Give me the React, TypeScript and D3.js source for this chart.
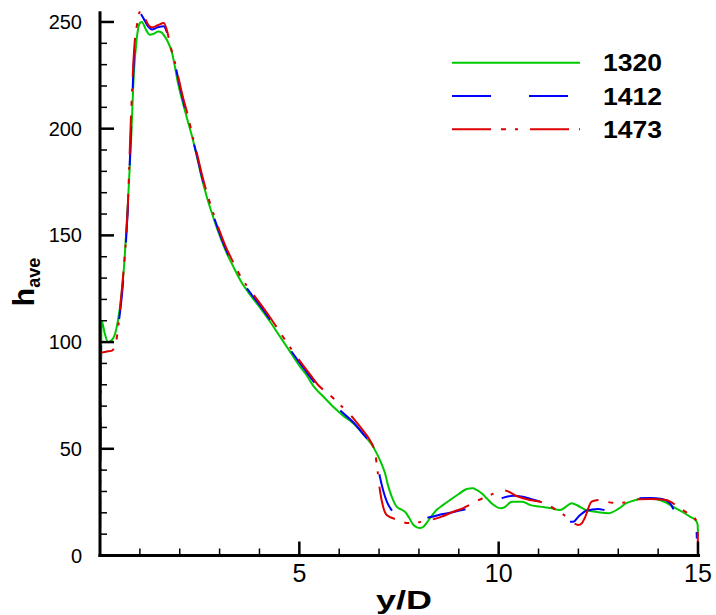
import React from "react";
import * as d3 from "d3";

// ---- data ----
const g1320X = [0, 0.015, 0.04, 0.12, 0.2, 0.3, 0.38, 0.45, 0.55, 0.62, 0.7, 0.78, 0.85, 0.92, 1.0, 1.05, 1.15, 1.25, 1.35, 1.46, 1.55, 1.63, 1.72, 1.8, 1.88, 1.96, 2.08, 2.18, 2.3, 2.43, 2.55, 2.68, 2.85, 3.01, 3.17, 3.34, 3.55, 3.8, 4.0, 4.25, 4.5, 4.75, 5.0, 5.2, 5.35, 5.6, 5.85, 6.1, 6.35, 6.55, 6.73, 6.85, 6.95, 7.05, 7.15, 7.23, 7.33, 7.44, 7.55, 7.65, 7.75, 7.85, 7.95, 8.03, 8.12, 8.19, 8.3, 8.44, 8.6, 8.78, 9.0, 9.2, 9.35, 9.45, 9.58, 9.7, 9.85, 10.0, 10.07, 10.15, 10.33, 10.6, 10.78, 11.04, 11.3, 11.54, 11.7, 11.83, 12.0, 12.2, 12.5, 12.75, 13.0, 13.2, 13.4, 13.63, 13.96, 14.2, 14.37, 14.6, 14.8, 14.95, 14.99, 15.0];
const g1320Y = [10, 60, 110, 104, 100, 101, 104, 110, 124, 140, 165, 195, 226, 242, 249.5, 250, 246.5, 244, 244.5, 245.5, 245, 243, 240, 236, 229, 221, 212, 205, 197, 187, 177, 168, 158, 149.5, 142, 135.5, 128, 121.3, 116.5, 110, 103, 96, 89, 84, 79.5, 74.5, 69.7, 65.5, 62, 58, 54, 51, 47.5, 43.5, 38.5, 32.5, 27, 22.9, 21.6, 20.5, 17.8, 14.6, 13.2, 12.9, 13.6, 15.2, 18, 21.3, 23.6, 26, 28.8, 31.2, 31.5, 30.7, 29, 26.8, 24, 22.3, 22.1, 22.6, 25.2, 25.2, 23.7, 22.9, 22.2, 21.3, 23, 24.5, 23.2, 21.3, 20.3, 19.8, 21.8, 24.5, 25.8, 26.8, 26.3, 24.8, 22.9, 20.5, 18.2, 16.3, 14.5, 9];

const b1412X = [0, 0.015, 0.03, 0.2, 0.38, 0.45, 0.55, 0.62, 0.7, 0.78, 0.86, 0.93, 1.0, 1.09, 1.21, 1.3, 1.45, 1.6, 1.68, 1.75, 1.88, 2.0, 2.09, 2.18, 2.3, 2.43, 2.55, 2.68, 2.85, 3.01, 3.17, 3.34, 3.55, 3.8, 4.0, 4.25, 4.5, 4.75, 5.0, 5.2, 5.4, 5.72, 6.0, 6.4, 6.6, 6.8, 6.94, 7.02, 7.1, 7.2, 7.35, 7.55, 7.78, 8.0, 8.3, 8.57, 8.9, 9.2, 9.53, 9.9, 10.1, 10.37, 10.6, 10.8, 11.04, 11.3, 11.54, 11.7, 11.87, 12.0, 12.2, 12.5, 12.7, 12.92, 13.2, 13.54, 13.8, 14.1, 14.3, 14.46, 14.63, 14.8, 14.9, 14.96, 14.97];
const b1412Y = [8, 60, 99, 100, 100.5, 107, 122, 138, 163, 200, 235, 248, 254, 251.7, 247.8, 246.5, 247.5, 248, 245, 240, 230.5, 220, 213, 205.5, 197, 187.5, 178, 169, 159, 150.5, 143, 136.5, 129, 122.3, 117.5, 111, 104, 97, 90.5, 85.5, 80.5, 74.4, 68.5, 61.5, 57, 52, 45.5, 37, 30.7, 25, 20.5, 18, 17, 17.3, 18, 19.3, 20.5, 21.8, 23, 25.5, 27, 28, 27.5, 26.5, 25.2, 22.5, 19.9, 15.8, 15.8, 18.2, 21, 21.8, 21.2, 21.3, 24.7, 26.8, 27, 26.5, 24.5, 19, 17, 16.6, 16.6, 13.5, 8];

const r1473X = [0, 0.015, 0.03, 0.15, 0.3, 0.4, 0.45, 0.54, 0.62, 0.7, 0.77, 0.86, 0.94, 1.02, 1.13, 1.21, 1.3, 1.45, 1.6, 1.68, 1.75, 1.88, 2.09, 2.2, 2.34, 2.43, 2.55, 2.68, 2.85, 3.01, 3.17, 3.34, 3.55, 3.8, 4.0, 4.25, 4.5, 4.75, 5.02, 5.31, 5.47, 5.72, 6.0, 6.35, 6.6, 6.77, 6.9, 6.96, 7.02, 7.1, 7.19, 7.48, 7.72, 8.0, 8.28, 8.57, 8.86, 9.1, 9.45, 9.78, 10.16, 10.45, 10.78, 11.04, 11.45, 11.75, 12.0, 12.08, 12.16, 12.33, 12.5, 12.87, 13.2, 13.5, 13.8, 14.2, 14.55, 14.8, 14.95, 14.99, 15.0];
const r1473Y = [10, 60, 95, 95.5, 96, 100, 106, 123, 140, 165, 202, 238, 250, 255.5, 251.7, 248.6, 247.5, 248.5, 249.5, 246, 240, 231, 214, 206.5, 195, 188.5, 179, 170, 160, 151.5, 144, 137.5, 130, 123.5, 118.5, 112, 105, 98, 91, 83.8, 79.9, 76, 71, 64.4, 58.5, 54, 48, 40, 30.7, 23, 19, 16.6, 15.2, 15.6, 16.6, 18.2, 20.5, 22.1, 25.5, 28.3, 30.4, 27.9, 26, 25.2, 21.3, 17.5, 14.3, 15, 17.6, 25.2, 26, 24.7, 24.8, 26.3, 26.5, 26, 22.1, 19, 16.5, 15, 0];

const seriesNames = ["1320", "1412", "1473"];
const seriesColors = ["#00c800", "#0000ff", "#dd0000"];
const seriesDash = ["none", "39,38", "39,10,5,9,3,12"];
const yTicks = [0, 50, 100, 150, 200, 250];
const xTicks = [5, 10, 15];

const x = d3.scaleLinear().domain([0, 15]).range([100, 698]);
const y = d3.scaleLinear().domain([0, 255]).range([555.5, 11.3]);

export default function App() {
  const seriesData = [
    g1320X.map((v, i) => [v, g1320Y[i]] as [number, number]),
    b1412X.map((v, i) => [v, b1412Y[i]] as [number, number]),
    r1473X.map((v, i) => [v, r1473Y[i]] as [number, number]),
  ];
  const line = d3
    .line<[number, number]>()
    .x((d) => x(d[0]))
    .y((d) => y(d[1]))
    .curve(d3.curveMonotoneX);

  const x0 = x(0);
  const yb = y(0);
  const yMinor = d3.range(0, 256, 10).filter((v) => v % 50 !== 0);
  const xMinor = d3.range(0, 16, 1).filter((v) => v % 5 !== 0);
  const font = "Liberation Sans, Arial, Helvetica, sans-serif";
  const tickColor = "#000";

  return (
    <svg width={716} height={615} style={{ position: "absolute", left: 0, top: 0 }}>
      <rect x={0} y={0} width={716} height={615} fill="#fff" />
      {seriesData.map((d, i) => (
        <path
          key={"s" + i}
          d={line(d) || ""}
          fill="none"
          stroke={seriesColors[i]}
          strokeWidth={2}
          strokeDasharray={seriesDash[i]}
          strokeLinejoin="round"
        />
      ))}
      <rect x={x0 - 1.5} y={y(255)} width={3} height={yb - y(255) + 1.5} fill="#000" />
      <rect x={x0 - 1.5} y={yb - 1.5} width={700 - x0 + 1.5} height={3} fill="#000" />
      {yTicks.map((t) => (
        <rect key={"ytk" + t} x={x0} y={y(t) - 1.25} width={14} height={2.5} fill={tickColor} />
      ))}
      {yMinor.map((t) => (
        <rect key={"ymk" + t} x={x0} y={y(t) - 0.75} width={7} height={1.5} fill={tickColor} />
      ))}
      {xTicks.map((t) => (
        <rect key={"xtk" + t} x={x(t) - 1.25} y={yb - 14} width={2.5} height={14} fill={tickColor} />
      ))}
      {xMinor.map((t) => (
        <rect key={"xmk" + t} x={x(t) - 0.75} y={yb - 7} width={1.5} height={7} fill={tickColor} />
      ))}
      {yTicks.map((t) => (
        <text key={"yl" + t} x={82} y={y(t) + 7} textAnchor="end" fontSize={20} fontFamily={font} fill="#000">
          {t}
        </text>
      ))}
      {xTicks.map((t) => (
        <text key={"xl" + t} x={x(t)} y={582} textAnchor="middle" fontSize={25} fontFamily={font} fill="#000">
          {t}
        </text>
      ))}
      <text
        x={404}
        y={609}
        textAnchor="middle"
        fontSize={26}
        fontWeight="bold"
        fontFamily={font}
        fill="#000"
        textLength={56}
        lengthAdjust="spacingAndGlyphs"
      >
        y/D
      </text>
      <text
        transform="translate(34,282) rotate(-90)"
        textAnchor="middle"
        fontWeight="bold"
        fontFamily={font}
        fill="#000"
      >
        <tspan fontSize={30}>h</tspan>
        <tspan fontSize={18} dy={6}>ave</tspan>
      </text>
      {seriesNames.map((n, i) => {
        const ly = 62.7 + i * 33.3;
        return (
          <g key={"lg" + n}>
            <line
              x1={452}
              x2={580}
              y1={ly}
              y2={ly}
              stroke={seriesColors[i]}
              strokeWidth={2}
              strokeDasharray={seriesDash[i]}
            />
            <text
              x={603}
              y={ly + 8.5}
              fontSize={24}
              fontWeight="bold"
              fontFamily={font}
              fill="#000"
              textLength={59}
              lengthAdjust="spacingAndGlyphs"
            >
              {n}
            </text>
          </g>
        );
      })}
    </svg>
  );
}
